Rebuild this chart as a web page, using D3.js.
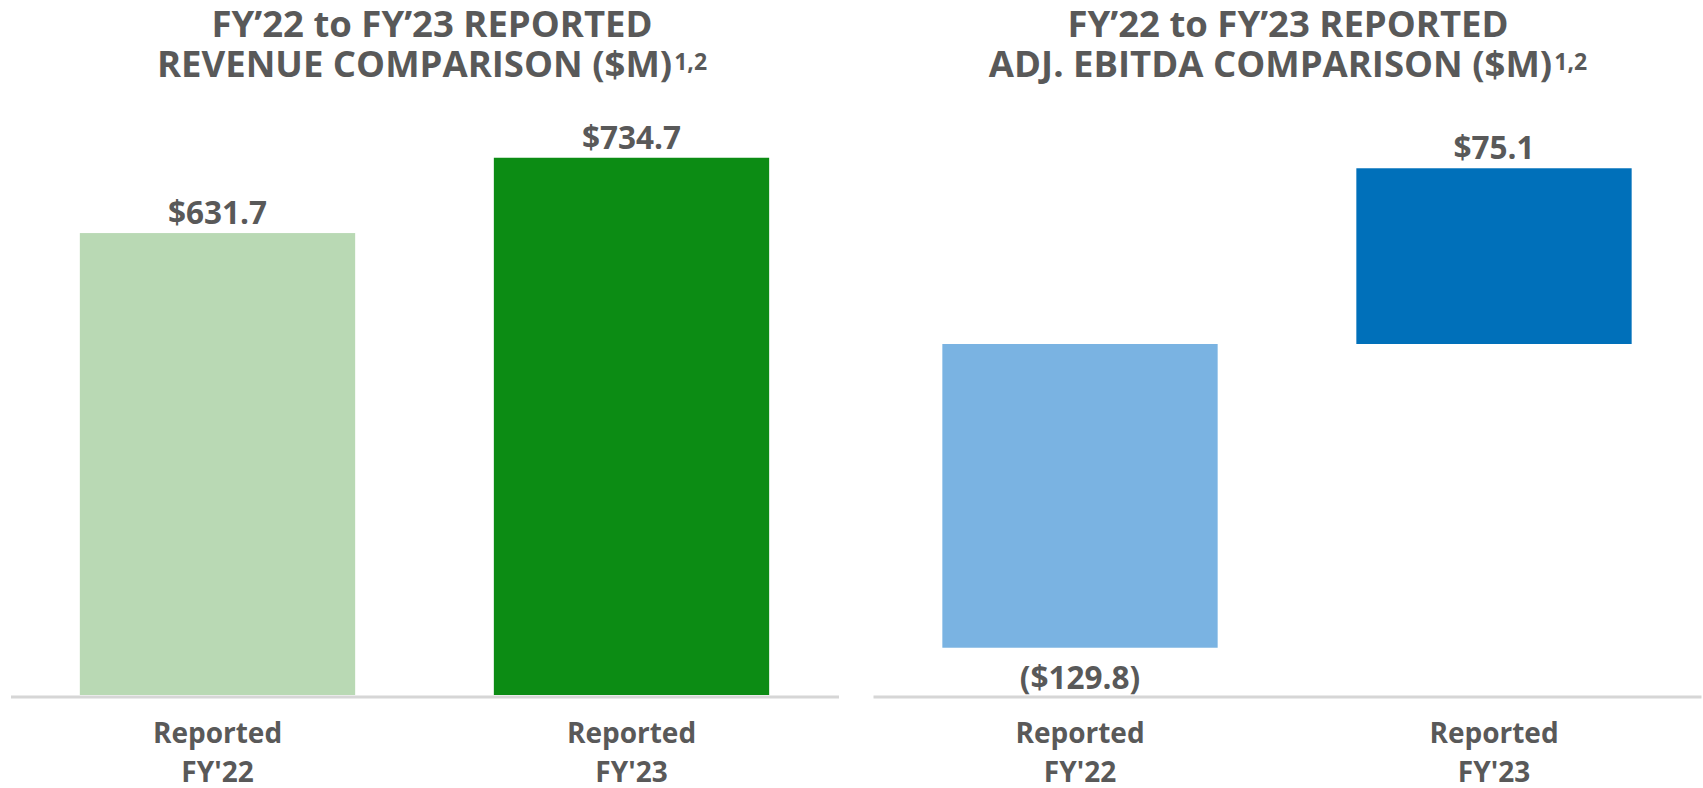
<!DOCTYPE html>
<html>
<head>
<meta charset="utf-8">
<script src="https://cdn.jsdelivr.net/npm/d3@7"></script>
<style>
  body { margin: 0; background: #fff; }
  svg { display: block; font-family: "Open Sans", sans-serif; }
</style>
</head>
<body>
<svg></svg>
<script>
var width = 1703
var height = 788

// data
var categories = ["Reported\nFY'22", "Reported\nFY'23"]
var revenue = [631.7, 734.7]
var ebitda = [-129.8, 75.1]
var revenueLabels = ["$631.7", "$734.7"]
var ebitdaLabels = ["($129.8)", "$75.1"]
var revenueColors = ["#b9d9b4", "#0c8c14"]
var ebitdaColors = ["#7ab3e2", "#0070ba"]
var revenueTitle = ["FY\u201922 to FY\u201923 REPORTED", "REVENUE COMPARISON ($M)"]
var ebitdaTitle = ["FY\u201922 to FY\u201923 REPORTED", "ADJ. EBITDA COMPARISON ($M)"]
var footnote = "1,2"

var textColor = "#595959"
var plotTop = 110, plotBottom = 695

const svg = d3.select("svg")
    .attr("width", width)
    .attr("height", height)
    .attr("viewBox", [0, 0, width, height]);

function panel(opts) {
    var x = d3.scaleBand()
        .domain(categories)
        .range(opts.xRange)
        .paddingInner(0.335)
        .paddingOuter(0.1675)
    var y = d3.scaleLinear()
        .domain(opts.yDomain)
        .range([plotBottom, plotTop])

    const g = svg.append("g");

    // title
    var tx = opts.titleX
    g.append("text")
        .attr("x", tx).attr("y", 37)
        .attr("text-anchor", "middle")
        .attr("font-size", 36.5).attr("font-weight", 700)
        .attr("fill", textColor)
        .text(opts.title[0]);
    const t2 = g.append("text")
        .attr("x", tx).attr("y", 77)
        .attr("text-anchor", "middle")
        .attr("font-size", 36.5).attr("font-weight", 700)
        .attr("fill", textColor);
    t2.append("tspan").text(opts.title[1]);
    t2.append("tspan")
        .attr("font-size", 23)
        .attr("dy", -7)
        .attr("dx", 2)
        .text(footnote);

    // bars
    g.append("g")
        .selectAll("rect")
        .data(opts.values)
        .enter().append("rect")
        .attr("x", (d, i) => x(categories[i]))
        .attr("width", x.bandwidth())
        .attr("y", d => Math.min(y(0), y(d)))
        .attr("height", d => Math.abs(y(d) - y(0)))
        .attr("fill", (d, i) => opts.colors[i]);

    // value labels
    g.append("g")
        .selectAll("text")
        .data(opts.values)
        .enter().append("text")
        .attr("x", (d, i) => x(categories[i]) + x.bandwidth() / 2)
        .attr("y", d => d >= 0 ? y(d) - 9 : y(d) + 41)
        .attr("text-anchor", "middle")
        .attr("font-size", 31.5).attr("font-weight", 700)
        .attr("fill", textColor)
        .text((d, i) => opts.labels[i]);

    // x axis
    g.append("g")
        .attr("transform", `translate(0,${plotBottom + 1.5})`)
        .call(d3.axisBottom(x).tickSize(0).tickSizeOuter(0))
        .call(g => g.select(".domain").attr("stroke", "#d6d6d6").attr("stroke-width", 3))
        .call(g => g.selectAll(".tick text").each(function(d) {
            var t = d3.select(this)
                .attr("font-family", "'Open Sans', sans-serif")
                .attr("font-size", 28)
                .attr("font-weight", 700)
                .attr("fill", textColor)
                .attr("y", 0)
                .attr("dy", null)
                .text(null);
            d.split("\n").forEach((line, i) => {
                t.append("tspan")
                    .attr("x", 0)
                    .attr("y", i == 0 ? 46 : 85)
                    .text(line);
            });
        }));
}

panel({
    xRange: [10.5, 838.5],
    yDomain: [0, 800],
    values: revenue,
    labels: revenueLabels,
    colors: revenueColors,
    title: revenueTitle,
    titleX: 432
});

panel({
    xRange: [873, 1701],
    yDomain: [-150, 100],
    values: ebitda,
    labels: ebitdaLabels,
    colors: ebitdaColors,
    title: ebitdaTitle,
    titleX: 1288
});
</script>
</body>
</html>
